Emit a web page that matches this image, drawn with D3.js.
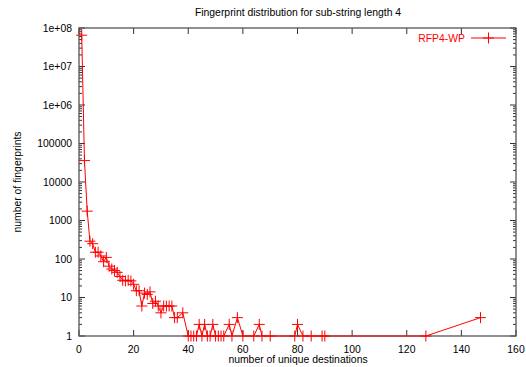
<!DOCTYPE html>
<html>
<head>
<meta charset="utf-8">
<script src="https://d3js.org/d3.v7.min.js"></script>
<style>
  body { margin: 0; background: #fff; }
  text { font-family: "Liberation Sans", Arial, sans-serif; }
</style>
</head>
<body>
<div id="chart"></div>
<script>
// values (number of unique destinations -> number of fingerprints)
const destinations = [1, 2, 3, 4, 5, 6, 7, 8, 9, 10, 11, 12, 13, 14, 15, 16, 17, 18, 19, 20,
  21, 22, 23, 24, 25, 26, 27, 28, 29, 30, 31, 32, 33, 34, 35, 36, 38, 40, 41, 42, 43,
  44, 45, 46, 47, 48, 49, 50, 51, 52, 53, 55, 56, 58, 60, 64, 66, 67, 70, 79, 80, 82,
  85, 89, 90, 127, 147];
const fingerprints = [65000000, 36000, 1750, 290, 250, 150, 150, 120, 85, 110, 65, 55, 50, 45, 35, 28, 27, 28, 27, 22,
  15, 15, 6, 13, 12, 14, 7, 8, 6, 4, 6, 6, 6, 6, 3, 3, 4, 1, 1, 1, 1,
  2, 1, 2, 1, 1, 2, 1, 1, 1, 1, 2, 1, 3, 1, 1, 2, 1, 1, 1, 2, 1,
  1, 1, 1, 1, 3];
const xTicks = [0, 20, 40, 60, 80, 100, 120, 140, 160];
const yTicks = [1, 10, 100, 1000, 10000, 100000, 1e6, 1e7, 1e8];
const yTickLabels = ['1', '10', '100', '1000', '10000', '100000', '1e+06', '1e+07', '1e+08'];
const seriesName = 'RFP4-WP';

const W = 526, H = 367;
const margin = { top: 28, right: 10, bottom: 31, left: 79 };
const iw = W - margin.left - margin.right;
const ih = H - margin.top - margin.bottom;
const red = '#ff0000';
const fs = '10.4px';

const svg = d3.select('#chart').append('svg')
  .attr('width', W).attr('height', H);

const g = svg.append('g')
  .attr('transform', `translate(${margin.left},${margin.top})`);

const x = d3.scaleLinear().domain([0, 160]).range([0, iw]);
const y = d3.scaleLog().domain([1, 1e8]).range([ih, 0]);

// minor ticks on the log axis (2..9 of each decade)
const minor = [];
yTicks.slice(0, -1).forEach(t => { for (let k = 2; k <= 9; k++) minor.push(t * k); });

const tickColor = '#333';
// x ticks, bottom and mirrored top
xTicks.forEach(t => {
  g.append('line').attr('x1', x(t)).attr('x2', x(t)).attr('y1', ih).attr('y2', ih - 6)
    .attr('stroke', tickColor);
  g.append('line').attr('x1', x(t)).attr('x2', x(t)).attr('y1', 0).attr('y2', 6)
    .attr('stroke', tickColor);
});
// y ticks, left and mirrored right
yTicks.forEach(t => {
  g.append('line').attr('x1', 0).attr('x2', 6).attr('y1', y(t)).attr('y2', y(t)).attr('stroke', tickColor);
  g.append('line').attr('x1', iw).attr('x2', iw - 6).attr('y1', y(t)).attr('y2', y(t)).attr('stroke', tickColor);
});
minor.forEach(t => {
  g.append('line').attr('x1', 0).attr('x2', 3).attr('y1', y(t)).attr('y2', y(t)).attr('stroke', tickColor);
  g.append('line').attr('x1', iw).attr('x2', iw - 3).attr('y1', y(t)).attr('y2', y(t)).attr('stroke', tickColor);
});

// tick labels
g.selectAll('.xl').data(xTicks).enter().append('text')
  .attr('x', d => x(d)).attr('y', ih + 17)
  .attr('text-anchor', 'middle').style('font-size', fs).attr('fill', '#000')
  .text(d => d);
g.selectAll('.yl').data(yTicks).enter().append('text')
  .attr('x', -7).attr('y', d => y(d)).attr('dy', '0.35em')
  .attr('text-anchor', 'end').style('font-size', fs).attr('fill', '#000')
  .text((d, i) => yTickLabels[i]);

// border
g.append('rect').attr('x', 0).attr('y', 0).attr('width', iw).attr('height', ih)
  .attr('fill', 'none').attr('stroke', '#555').attr('stroke-width', 1.3);

// data line
const line = d3.line().x((d, i) => x(destinations[i])).y(d => y(d));
g.append('path').datum(fingerprints)
  .attr('d', line).attr('fill', 'none').attr('stroke', red).attr('stroke-width', 1);

// cross markers
const ms = 5.5;
const pts = g.append('g').selectAll('.pt').data(fingerprints).enter().append('path')
  .attr('d', (d, i) => {
    const px = x(destinations[i]), py = y(d);
    return `M${px - ms},${py}H${px + ms}M${px},${py - ms}V${py + ms}`;
  })
  .attr('stroke', red).attr('stroke-width', 1).attr('fill', 'none');

// legend
const lg = g.append('g').attr('transform', `translate(${iw - 45}, 10)`);
lg.append('text').attr('x', -6).attr('y', 0).attr('dy', '0.35em')
  .attr('text-anchor', 'end').style('font-size', fs).attr('fill', red).text(seriesName);
lg.append('line').attr('x1', 0).attr('x2', 35).attr('y1', 0).attr('y2', 0)
  .attr('stroke', red);
lg.append('path').attr('d', `M${17.5 - ms},0H${17.5 + ms}M17.5,${-ms}V${ms}`)
  .attr('stroke', red);

// title and axis labels
svg.append('text').attr('x', 298).attr('y', 16).attr('text-anchor', 'middle')
  .style('font-size', fs).text('Fingerprint distribution for sub-string length 4');
svg.append('text').attr('x', 298).attr('y', H - 4).attr('text-anchor', 'middle')
  .style('font-size', fs).text('number of unique destinations');
svg.append('text').attr('transform', `translate(21, ${margin.top + ih / 2}) rotate(-90)`)
  .attr('text-anchor', 'middle').style('font-size', fs).text('number of fingerprints');
</script>
</body>
</html>
